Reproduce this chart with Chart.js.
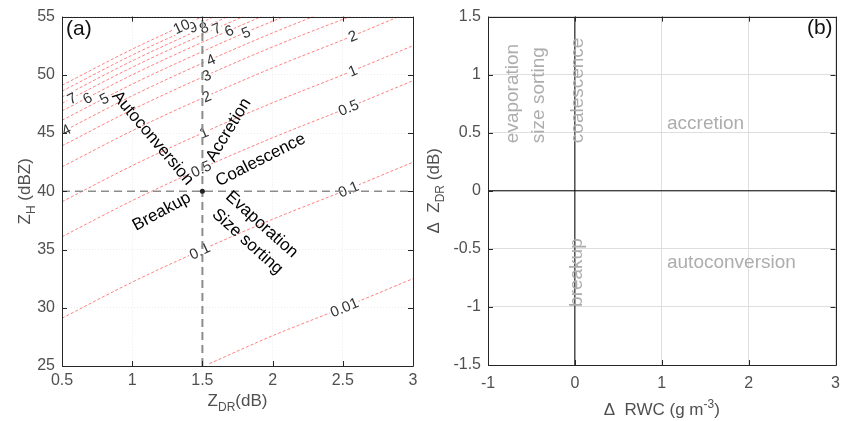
<!DOCTYPE html>
<html>
<head>
<meta charset="utf-8">
<script src="https://cdn.jsdelivr.net/npm/chart.js@4.4.1/dist/chart.umd.min.js"></script>
<style>
body { margin: 0; background: #fff; }
#wrap { position: relative; width: 849px; height: 421px; }
#ca { position: absolute; left: 0; top: 0; }
#cb { position: absolute; left: 425px; top: 0; }
</style>
</head>
<body>
<div id="wrap">
  <canvas id="ca" width="425" height="421"></canvas>
  <canvas id="cb" width="424" height="421"></canvas>
</div>
<script>
var FONT = "'Liberation Sans', Arial, sans-serif";

// axis ticks
var zdrTicks = [0.5, 1, 1.5, 2, 2.5, 3];
var zhTicks = [25, 30, 35, 40, 45, 50, 55];
var dRwcTicks = [-1, 0, 1, 2, 3];
var dZdrTicks = [-1.5, -1, -0.5, 0, 0.5, 1, 1.5];

// RWC contour levels (g m-3) and their lines as [ZDR, ZH] pairs
var rwcLevels = ['0.01', '0.1', '0.5', '1', '2', '3', '4', '5', '6', '7', '8', '9', '10'];
var contourPts = [
  [[1.55, 25.2], [2, 27.6], [2.5, 30], [3, 32.5]],
  [[0.5, 29.1], [1, 32.2], [1.5, 35], [2, 37.6], [2.5, 40], [3, 42.5]],
  [[0.5, 36.1], [1, 39.2], [1.5, 42], [2, 44.6], [2.5, 47], [3, 49.5]],
  [[0.5, 39.1], [1, 42.2], [1.5, 45], [2, 47.6], [2.5, 50], [3, 52.5]],
  [[0.5, 42.1], [1, 45.2], [1.5, 48], [2, 50.6], [2.5, 53], [2.9, 55]],
  [[0.5, 43.9], [1, 47], [1.5, 49.8], [2, 52.4], [2.55, 55]],
  [[0.5, 45.1], [1, 48.2], [1.5, 51], [2, 53.6], [2.29, 55]],
  [[0.5, 46.1], [1, 49.2], [1.5, 52], [1.8, 53.6], [2.08, 55]],
  [[0.5, 46.9], [1, 50], [1.5, 52.8], [1.92, 55]],
  [[0.5, 47.55], [1, 50.65], [1.5, 53.45], [1.79, 55]],
  [[0.5, 48.1], [1, 51.2], [1.5, 54], [1.68, 55]],
  [[0.5, 48.6], [1, 51.7], [1.5, 54.5], [1.58, 55]],
  [[0.5, 49.1], [1, 52.2], [1.5, 55]]
];
// where each contour carries its label: [level index, ZDR]
var labelSpots = [
  [0, 2.51], [1, 1.48], [1, 2.54], [2, 1.49], [2, 2.54], [3, 1.51], [3, 2.57],
  [4, 1.53], [4, 2.57], [5, 1.53], [6, 0.53], [6, 1.56], [7, 0.8], [7, 1.81],
  [8, 0.68], [8, 1.69], [9, 0.57], [9, 1.6], [10, 1.51], [11, 1.43], [12, 1.35]
];

// reference point
var refZdr = 1.5, refZh = 40;

// process names
var procA = ['Autoconversion', 'Accretion', 'Coalescence', 'Breakup', 'Evaporation', 'Size sorting'];
var procB = ['evaporation', 'size sorting', 'coalescence', 'breakup', 'accretion', 'autoconversion'];

// text placement (data coords + angle in degrees)
var procAPlace = [[1.146, 44.57, 50], [1.687, 45.26, -58.5], [1.915, 42.69, -27],
                  [1.21, 38.25, -28.5], [1.922, 37.14, 42], [1.82, 35.68, 42]];
var procBPlace = [[-0.72, 0.41, -90], [-0.41, 0.41, -90], [0.03, 0.41, -90],
                  [0.02, -1.0, -90], [1.06, 0.58, 0], [1.06, -0.62, 0]];

function drawRich(ctx, parts, x, y, rot, size, color) {
  ctx.save();
  ctx.translate(x, y);
  ctx.rotate(rot);
  ctx.fillStyle = color;
  ctx.textBaseline = 'alphabetic';
  ctx.textAlign = 'left';
  var small = Math.round(size * 0.72);
  var total = 0;
  parts.forEach(function (p) {
    ctx.font = (p[1] ? small : size) + 'px ' + FONT;
    total += ctx.measureText(p[0]).width;
  });
  var cx = -total / 2;
  parts.forEach(function (p) {
    ctx.font = (p[1] ? small : size) + 'px ' + FONT;
    var dy = p[1] === 'sub' ? size * 0.3 : (p[1] === 'sup' ? -size * 0.42 : 0);
    ctx.fillText(p[0], cx, dy);
    cx += ctx.measureText(p[0]).width;
  });
  ctx.restore();
}

function drawFrame(chart) {
  var ctx = chart.ctx, a = chart.chartArea, sx = chart.scales.x, sy = chart.scales.y;
  ctx.save();
  ctx.strokeStyle = '#262626';
  ctx.lineWidth = 1;
  ctx.beginPath();
  ctx.rect(Math.round(a.left) + 0.5, Math.round(a.top) + 0.5,
           Math.round(a.right) - Math.round(a.left), Math.round(a.bottom) - Math.round(a.top));
  sx.ticks.forEach(function (t) {
    var p = Math.round(sx.getPixelForValue(t.value)) + 0.5;
    ctx.moveTo(p, a.bottom); ctx.lineTo(p, a.bottom - 5);
    ctx.moveTo(p, a.top); ctx.lineTo(p, a.top + 5);
  });
  sy.ticks.forEach(function (t) {
    var p = Math.round(sy.getPixelForValue(t.value)) + 0.5;
    ctx.moveTo(a.left, p); ctx.lineTo(a.left + 5, p);
    ctx.moveTo(a.right, p); ctx.lineTo(a.right - 5, p);
  });
  ctx.stroke();
  ctx.restore();
}

function tickSetter(list) {
  return function (s) { s.ticks = list.map(function (v) { return { value: v }; }); };
}

function axis(min, max, list, size, pad, gridColor, dash, isX) {
  var o = {
    type: 'linear', min: min, max: max,
    afterBuildTicks: tickSetter(list),
    ticks: { padding: pad, color: '#505050', font: { size: 16, family: FONT },
             autoSkip: false, maxRotation: 0, callback: function (v) { return String(v); } },
    grid: { color: gridColor, drawTicks: false },
    border: { display: false, dash: dash }
  };
  if (isX) o.afterFit = function (s) { s.height = size; };
  else o.afterFit = function (s) { s.width = size; };
  return o;
}

// ---------- panel (a) ----------
var datasetsA = [
  { data: [{ x: refZdr, y: refZh }], showLine: false, pointRadius: 2.5,
    pointBackgroundColor: '#222', pointBorderWidth: 0 },
  { data: [{ x: refZdr, y: zhTicks[0] }, { x: refZdr, y: zhTicks[zhTicks.length - 1] }],
    borderColor: '#8c8c8c', borderWidth: 2, borderDash: [8, 5] },
  { data: [{ x: zdrTicks[0], y: refZh }, { x: zdrTicks[zdrTicks.length - 1], y: refZh }],
    borderColor: '#8c8c8c', borderWidth: 1.5, borderDash: [8, 5] }
];
contourPts.forEach(function (pts) {
  datasetsA.push({
    data: pts.map(function (p) { return { x: p[0], y: p[1] }; }),
    borderColor: '#ff8080', borderWidth: 1, borderDash: [3, 2],
    cubicInterpolationMode: 'monotone'
  });
});

var panelAPlugin = {
  id: 'panelA',
  beforeDatasetDraw: function (chart, args) {
    if (args.index !== 2) return;
    var ctx = chart.ctx, sx = chart.scales.x, sy = chart.scales.y;
    ctx.save();
    ctx.font = '15px ' + FONT;
    labelSpots.forEach(function (s) {
      var pts = contourPts[s[0]], x = s[1], i;
      for (i = 1; i < pts.length - 1 && pts[i][0] < x; i++);
      var a = pts[i - 1], b = pts[i];
      var y = a[1] + (x - a[0]) / (b[0] - a[0]) * (b[1] - a[1]);
      var px = sx.getPixelForValue(x), py = sy.getPixelForValue(y);
      var ang = Math.atan2(sy.getPixelForValue(b[1]) - sy.getPixelForValue(a[1]),
                           sx.getPixelForValue(b[0]) - sx.getPixelForValue(a[0]));
      var txt = rwcLevels[s[0]], w = ctx.measureText(txt).width;
      ctx.save();
      ctx.translate(px, py);
      ctx.rotate(ang);
      ctx.fillStyle = '#fff';
      ctx.fillRect(-w / 2 - 1, -6, w + 2, 12);
      ctx.fillStyle = '#333';
      ctx.textAlign = 'center';
      ctx.textBaseline = 'middle';
      ctx.fillText(txt, 0, 1);
      ctx.restore();
    });
    ctx.restore();
  },
  afterDatasetsDraw: function (chart) {
    var ctx = chart.ctx, sx = chart.scales.x, sy = chart.scales.y;
    ctx.save();
    ctx.font = '17px ' + FONT;
    ctx.fillStyle = '#000';
    ctx.textAlign = 'center';
    ctx.textBaseline = 'middle';
    procA.forEach(function (t, i) {
      var p = procAPlace[i];
      ctx.save();
      ctx.translate(sx.getPixelForValue(p[0]), sy.getPixelForValue(p[1]));
      ctx.rotate(p[2] * Math.PI / 180);
      ctx.fillText(t, 0, 0);
      ctx.restore();
    });
    ctx.restore();
  },
  afterDraw: function (chart) {
    var ctx = chart.ctx, a = chart.chartArea;
    drawFrame(chart);
    ctx.save();
    ctx.font = '21px ' + FONT;
    ctx.fillStyle = '#111';
    ctx.textBaseline = 'middle';
    ctx.fillText('(a)', a.left + 4, 29);
    ctx.restore();
    drawRich(ctx, [['Z'], ['DR', 'sub'], ['(dB)']], (a.left + a.right) / 2, 406, 0, 17, '#505050');
    drawRich(ctx, [['Z'], ['H', 'sub'], [' (dBZ)']], 29.5, (a.top + a.bottom) / 2, -Math.PI / 2, 17, '#505050');
  }
};

new Chart(document.getElementById('ca'), {
  type: 'line',
  data: { datasets: datasetsA },
  options: {
    responsive: false, animation: false, devicePixelRatio: 1,
    layout: { padding: { left: 0, right: 12, top: 15, bottom: 0 } },
    plugins: { legend: { display: false }, tooltip: { enabled: false } },
    elements: { point: { radius: 0 }, line: { tension: 0 } },
    scales: {
      x: axis(0.5, 3, zdrTicks, 55, 5, '#ececec', [1, 2], true),
      y: axis(25, 55, zhTicks, 62, 7, '#ececec', [1, 2], false)
    }
  },
  plugins: [panelAPlugin]
});

// ---------- panel (b) ----------
var datasetsB = [
  { data: [{ x: 0, y: dZdrTicks[0] }, { x: 0, y: dZdrTicks[dZdrTicks.length - 1] }],
    borderColor: '#000', borderWidth: 1 },
  { data: [{ x: dRwcTicks[0], y: 0 }, { x: dRwcTicks[dRwcTicks.length - 1], y: 0 }],
    borderColor: '#000', borderWidth: 1 }
];

var panelBPlugin = {
  id: 'panelB',
  afterDatasetsDraw: function (chart) {
    var ctx = chart.ctx, sx = chart.scales.x, sy = chart.scales.y;
    ctx.save();
    ctx.font = '19px ' + FONT;
    ctx.fillStyle = '#adadad';
    ctx.textAlign = 'left';
    ctx.textBaseline = 'middle';
    procB.forEach(function (t, i) {
      var p = procBPlace[i];
      ctx.save();
      ctx.translate(sx.getPixelForValue(p[0]), sy.getPixelForValue(p[1]));
      ctx.rotate(p[2] * Math.PI / 180);
      ctx.fillText(t, 0, 0);
      ctx.restore();
    });
    ctx.restore();
  },
  afterDraw: function (chart) {
    var ctx = chart.ctx, a = chart.chartArea;
    drawFrame(chart);
    ctx.save();
    ctx.font = '21px ' + FONT;
    ctx.fillStyle = '#111';
    ctx.textAlign = 'right';
    ctx.textBaseline = 'middle';
    ctx.fillText('(b)', a.right - 3, 28);
    ctx.restore();
    drawRich(ctx, [['\u0394  RWC (g m'], ['-3', 'sup'], [')']], (a.left + a.right) / 2, 415, 0, 17, '#505050');
    drawRich(ctx, [['\u0394  Z'], ['DR', 'sub'], [' (dB)']], 13.5, (a.top + a.bottom) / 2, -Math.PI / 2, 17, '#505050');
  }
};

new Chart(document.getElementById('cb'), {
  type: 'line',
  data: { datasets: datasetsB },
  options: {
    responsive: false, animation: false, devicePixelRatio: 1,
    layout: { padding: { left: 0, right: 9, top: 15, bottom: 0 } },
    plugins: { legend: { display: false }, tooltip: { enabled: false } },
    elements: { point: { radius: 0 }, line: { tension: 0 } },
    scales: {
      x: axis(-1, 3, dRwcTicks, 56, 9, '#dedede', [], true),
      y: axis(-1.5, 1.5, dZdrTicks, 63, 7, '#dedede', [], false)
    }
  },
  plugins: [panelBPlugin]
});
</script>
</body>
</html>
